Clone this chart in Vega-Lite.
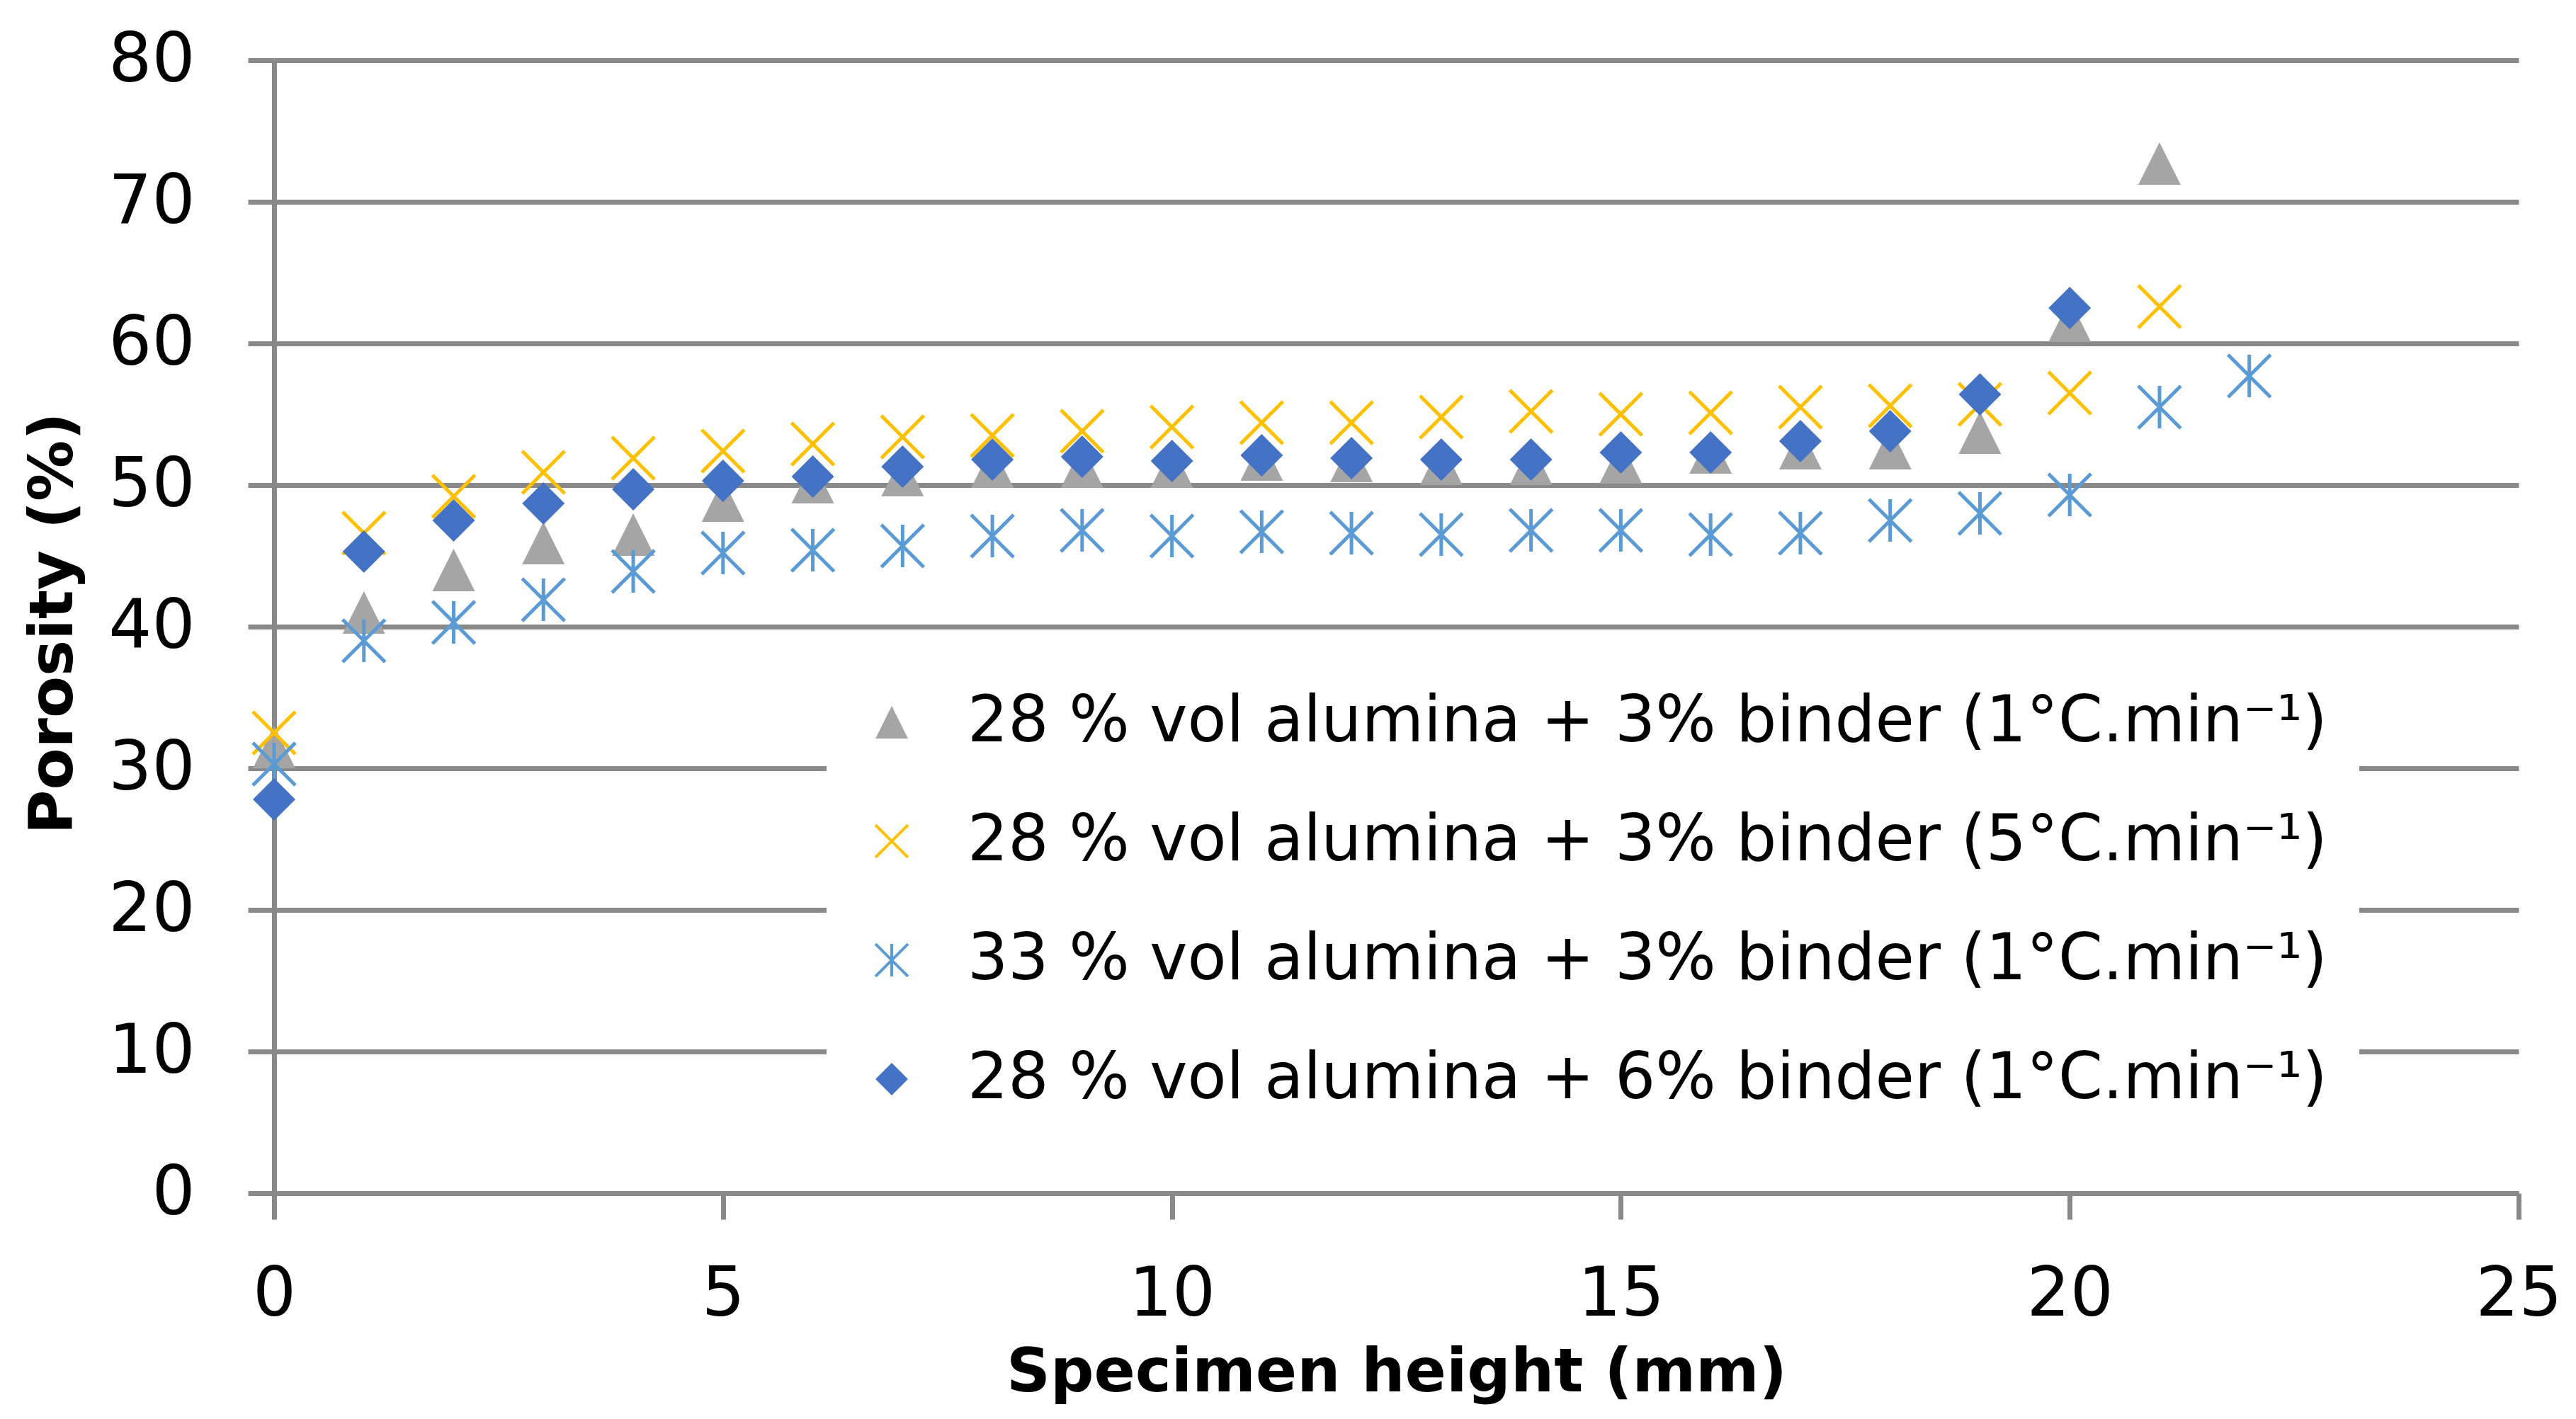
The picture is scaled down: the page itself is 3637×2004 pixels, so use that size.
{
  "$schema": "https://vega.github.io/schema/vega-lite/v6.json",
  "description": "Porosity along specimen height for four alumina/binder/heating-rate combinations.",
  "width": 3169,
  "height": 1600,
  "autosize": {"type": "none"},
  "padding": {"left": 387, "top": 85, "right": 81, "bottom": 319},
  "background": "white",
  "config": {
    "view": {"stroke": null},
    "font": "DejaVu Sans",
    "legend": {
      "orient": "none",
      "legendX": 780,
      "legendY": 845,
      "fillColor": "white",
      "padding": 45,
      "symbolSize": 2100,
      "symbolStrokeWidth": 4,
      "symbolOffset": 2,
      "labelOffset": 62,
      "labelFont": "DejaVu Sans",
      "labelFontSize": 90,
      "labelColor": "black",
      "labelLimit": 3000,
      "rowPadding": 78,
      "symbolOpacity": 1
    }
  },
  "data": {
    "values": [
      {"s": "A", "h": 0, "p": 31.5}, {"s": "A", "h": 1, "p": 41.0}, {"s": "A", "h": 2, "p": 44.0},
      {"s": "A", "h": 3, "p": 45.9}, {"s": "A", "h": 4, "p": 46.5}, {"s": "A", "h": 5, "p": 48.9},
      {"s": "A", "h": 6, "p": 50.2}, {"s": "A", "h": 7, "p": 50.7}, {"s": "A", "h": 8, "p": 51.3},
      {"s": "A", "h": 9, "p": 51.3}, {"s": "A", "h": 10, "p": 51.3}, {"s": "A", "h": 11, "p": 51.8},
      {"s": "A", "h": 12, "p": 51.7}, {"s": "A", "h": 13, "p": 51.5}, {"s": "A", "h": 14, "p": 51.5},
      {"s": "A", "h": 15, "p": 51.6}, {"s": "A", "h": 16, "p": 52.3}, {"s": "A", "h": 17, "p": 52.6},
      {"s": "A", "h": 18, "p": 52.6}, {"s": "A", "h": 19, "p": 53.7}, {"s": "A", "h": 20, "p": 61.6},
      {"s": "A", "h": 21, "p": 72.7},
      {"s": "B", "h": 0, "p": 32.5}, {"s": "B", "h": 1, "p": 46.6}, {"s": "B", "h": 2, "p": 49.2},
      {"s": "B", "h": 3, "p": 50.9}, {"s": "B", "h": 4, "p": 51.9}, {"s": "B", "h": 5, "p": 52.4},
      {"s": "B", "h": 6, "p": 52.9}, {"s": "B", "h": 7, "p": 53.4}, {"s": "B", "h": 8, "p": 53.5},
      {"s": "B", "h": 9, "p": 53.8}, {"s": "B", "h": 10, "p": 54.1}, {"s": "B", "h": 11, "p": 54.4},
      {"s": "B", "h": 12, "p": 54.4}, {"s": "B", "h": 13, "p": 54.8}, {"s": "B", "h": 14, "p": 55.2},
      {"s": "B", "h": 15, "p": 55.0}, {"s": "B", "h": 16, "p": 55.1}, {"s": "B", "h": 17, "p": 55.5},
      {"s": "B", "h": 18, "p": 55.6}, {"s": "B", "h": 19, "p": 55.7}, {"s": "B", "h": 20, "p": 56.5},
      {"s": "B", "h": 21, "p": 62.6},
      {"s": "C", "h": 0, "p": 30.3}, {"s": "C", "h": 1, "p": 39.0}, {"s": "C", "h": 2, "p": 40.3},
      {"s": "C", "h": 3, "p": 41.9}, {"s": "C", "h": 4, "p": 43.9}, {"s": "C", "h": 5, "p": 45.2},
      {"s": "C", "h": 6, "p": 45.4}, {"s": "C", "h": 7, "p": 45.7}, {"s": "C", "h": 8, "p": 46.4},
      {"s": "C", "h": 9, "p": 46.8}, {"s": "C", "h": 10, "p": 46.4}, {"s": "C", "h": 11, "p": 46.7},
      {"s": "C", "h": 12, "p": 46.6}, {"s": "C", "h": 13, "p": 46.5}, {"s": "C", "h": 14, "p": 46.8},
      {"s": "C", "h": 15, "p": 46.8}, {"s": "C", "h": 16, "p": 46.5}, {"s": "C", "h": 17, "p": 46.6},
      {"s": "C", "h": 18, "p": 47.5}, {"s": "C", "h": 19, "p": 48.0}, {"s": "C", "h": 20, "p": 49.3},
      {"s": "C", "h": 21, "p": 55.5}, {"s": "C", "h": 22, "p": 57.7},
      {"s": "D", "h": 0, "p": 27.8}, {"s": "D", "h": 1, "p": 45.3}, {"s": "D", "h": 2, "p": 47.5},
      {"s": "D", "h": 3, "p": 48.7}, {"s": "D", "h": 4, "p": 49.7}, {"s": "D", "h": 5, "p": 50.3},
      {"s": "D", "h": 6, "p": 50.6}, {"s": "D", "h": 7, "p": 51.3}, {"s": "D", "h": 8, "p": 51.8},
      {"s": "D", "h": 9, "p": 52.0}, {"s": "D", "h": 10, "p": 51.7}, {"s": "D", "h": 11, "p": 52.1},
      {"s": "D", "h": 12, "p": 51.9}, {"s": "D", "h": 13, "p": 51.8}, {"s": "D", "h": 14, "p": 51.8},
      {"s": "D", "h": 15, "p": 52.3}, {"s": "D", "h": 16, "p": 52.3}, {"s": "D", "h": 17, "p": 53.1},
      {"s": "D", "h": 18, "p": 53.8}, {"s": "D", "h": 19, "p": 56.4}, {"s": "D", "h": 20, "p": 62.5}
    ]
  },
  "mark": {"type": "point", "opacity": 1, "strokeWidth": 5, "size": 3600},
  "encoding": {
    "x": {
      "field": "h",
      "type": "quantitative",
      "scale": {"domain": [0, 25], "nice": false, "zero": false},
      "axis": {
        "values": [0, 5, 10, 15, 20, 25],
        "grid": false,
        "domainColor": "#898989",
        "domainWidth": 7,
        "tickColor": "#898989",
        "tickWidth": 7,
        "tickSize": 37,
        "labelFont": "DejaVu Sans",
        "labelFontSize": 96,
        "labelColor": "black",
        "labelBaseline": "alphabetic",
        "labelPadding": 135,
        "labelFlush": false,
        "labelOverlap": false,
        "title": "Specimen height (mm)",
        "titleFont": "DejaVu Sans",
        "titleFontSize": 86,
        "titleFontWeight": "bold",
        "titleColor": "black",
        "titleX": 1584.5,
        "titleY": 279,
        "titleAlign": "center",
        "titleBaseline": "alphabetic"
      }
    },
    "y": {
      "field": "p",
      "type": "quantitative",
      "scale": {"domain": [0, 80], "nice": false},
      "axis": {
        "values": [0, 10, 20, 30, 40, 50, 60, 70, 80],
        "grid": true,
        "gridColor": "#898989",
        "gridWidth": 7,
        "domainColor": "#898989",
        "domainWidth": 7,
        "tickColor": "#898989",
        "tickWidth": 7,
        "tickSize": 37,
        "labelFont": "DejaVu Sans",
        "labelFontSize": 96,
        "labelColor": "black",
        "labelPadding": 75,
        "labelFlush": false,
        "labelOverlap": false,
        "title": "Porosity (%)",
        "titleFont": "DejaVu Sans",
        "titleFontSize": 86,
        "titleFontWeight": "bold",
        "titleColor": "black",
        "titleAngle": -90,
        "titleX": -312,
        "titleY": 795,
        "titleAlign": "center",
        "titleBaseline": "middle"
      }
    },
    "shape": {
      "field": "s",
      "type": "nominal",
      "scale": {
        "domain": ["A", "B", "C", "D"],
        "range": [
          "M0,-1L1,1L-1,1Z",
          "M-1,-1L1,1M-1,1L1,-1",
          "M-1,-1L1,1M-1,1L1,-1M0,-1L0,1",
          "M0,-1L1,0L0,1L-1,0Z"
        ]
      },
      "legend": {
        "title": null,
        "labelExpr": "{'A': '28 % vol alumina + 3% binder (1°C.min⁻¹)', 'B': '28 % vol alumina + 3% binder (5°C.min⁻¹)', 'C': '33 % vol alumina + 3% binder (1°C.min⁻¹)', 'D': '28 % vol alumina + 6% binder (1°C.min⁻¹)'}[datum.value]"
      }
    },
    "fill": {
      "field": "s",
      "type": "nominal",
      "scale": {
        "domain": ["A", "B", "C", "D"],
        "range": ["#A5A5A5", "transparent", "transparent", "#4472C4"]
      },
      "legend": {
        "title": null,
        "labelExpr": "{'A': '28 % vol alumina + 3% binder (1°C.min⁻¹)', 'B': '28 % vol alumina + 3% binder (5°C.min⁻¹)', 'C': '33 % vol alumina + 3% binder (1°C.min⁻¹)', 'D': '28 % vol alumina + 6% binder (1°C.min⁻¹)'}[datum.value]"
      }
    },
    "stroke": {
      "field": "s",
      "type": "nominal",
      "scale": {
        "domain": ["A", "B", "C", "D"],
        "range": ["transparent", "#FFC000", "#5B9BD5", "transparent"]
      },
      "legend": {
        "title": null,
        "labelExpr": "{'A': '28 % vol alumina + 3% binder (1°C.min⁻¹)', 'B': '28 % vol alumina + 3% binder (5°C.min⁻¹)', 'C': '33 % vol alumina + 3% binder (1°C.min⁻¹)', 'D': '28 % vol alumina + 6% binder (1°C.min⁻¹)'}[datum.value]"
      }
    }
  }
}
